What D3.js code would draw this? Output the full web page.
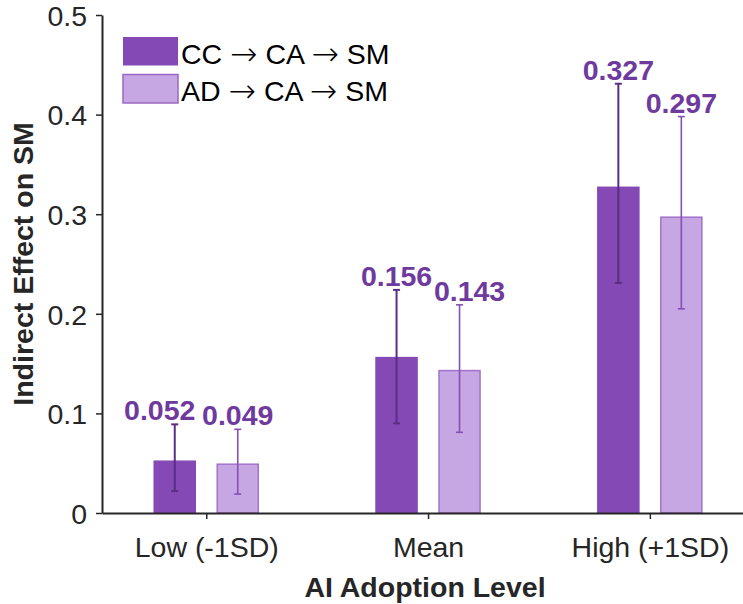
<!DOCTYPE html>
<html>
<head>
<meta charset="utf-8">
<script src="https://cdn.jsdelivr.net/npm/d3@7"></script>
<style>
  body { margin: 0; background: #fff; }
  text { font-family: "Liberation Sans", Arial, sans-serif; }
</style>
</head>
<body>
<div id="chart"></div>
<script>
// categories and series
const levels = ["Low (-1SD)", "Mean", "High (+1SD)"];
const seriesNames = [["CC", "CA", "SM"], ["AD", "CA", "SM"]];
const ccValues = [0.052, 0.156, 0.327];
const adValues = [0.049, 0.143, 0.297];
// confidence intervals (lower / upper)
const ccLower = [0.022, 0.090, 0.231];
const ccUpper = [0.089, 0.224, 0.431];
const adLower = [0.019, 0.081, 0.205];
const adUpper = [0.084, 0.209, 0.398];
const yTicks = [0, 0.1, 0.2, 0.3, 0.4, 0.5];

const width = 743, height = 604;
const fill = ["#8549b5", "#c6a7e3"];
const edge = ["#8549b5", "#a272cc"];
const errColor = ["#5b2d85", "#8350b3"];
const labelColor = "#6f3a9e";
const fs = 28.5;
// small sideways nudges so neighbouring labels don't collide
const labelNudge = [[-15, 0], [0, 10], [0, 0]];

const svg = d3.select("#chart").append("svg")
    .attr("width", width)
    .attr("height", height);

const x = d3.scaleLinear().domain([0.53, 3.42]).range([102, 743]);
const y = d3.scaleLinear().domain([0, 0.5]).range([513, 15]);

const barOffset = 0.142; // in category units
const barW = x(0.185) - x(0);

const series = [
  { vals: ccValues, lo: ccLower, hi: ccUpper, off: -barOffset },
  { vals: adValues, lo: adLower, hi: adUpper, off: barOffset }
];

// bars
series.forEach((s, si) => {
  svg.append("g").selectAll("rect")
    .data(s.vals)
    .join("rect")
    .attr("x", (d, i) => x(i + 1 + s.off) - barW / 2)
    .attr("y", d => y(d))
    .attr("width", barW)
    .attr("height", d => y(0) - y(d))
    .attr("fill", fill[si])
    .attr("stroke", edge[si])
    .attr("stroke-width", 1.5);
});

// error bars
series.forEach((s, si) => {
  const g = svg.append("g")
      .attr("stroke", errColor[si])
      .attr("stroke-width", si === 0 ? 2 : 1.6);
  s.vals.forEach((d, i) => {
    const cx = x(i + 1 + s.off);
    g.append("line").attr("x1", cx).attr("x2", cx).attr("y1", y(s.lo[i])).attr("y2", y(s.hi[i]));
    g.append("line").attr("x1", cx - 3.5).attr("x2", cx + 3.5).attr("y1", y(s.lo[i])).attr("y2", y(s.lo[i]));
    g.append("line").attr("x1", cx - 3.5).attr("x2", cx + 3.5).attr("y1", y(s.hi[i])).attr("y2", y(s.hi[i]));
  });
});

// value labels
series.forEach((s, si) => {
  svg.append("g").selectAll("text")
    .data(s.vals)
    .join("text")
    .attr("x", (d, i) => x(i + 1 + s.off) + labelNudge[i][si])
    .attr("y", (d, i) => y(s.hi[i]) - 4)
    .attr("text-anchor", "middle")
    .attr("font-size", fs)
    .attr("font-weight", "bold")
    .attr("fill", labelColor)
    .text(d => d.toFixed(3));
});

// axes
const xAxis = svg.append("g")
    .attr("transform", `translate(0,${y(0)})`)
    .call(d3.axisBottom(x).tickValues([1, 2, 3]).tickSize(6).tickSizeOuter(0)
      .tickFormat((d, i) => levels[i]));
xAxis.select(".domain").attr("stroke", "#262626").attr("stroke-width", 2);
xAxis.selectAll(".tick line").attr("stroke", "#262626").attr("stroke-width", 1.5);
xAxis.selectAll(".tick text")
    .attr("y", 44).attr("dy", 0)
    .attr("font-size", fs)
    .attr("fill", "#262626")
    .attr("font-family", "Liberation Sans, Arial, sans-serif");

const yAxis = svg.append("g")
    .attr("transform", `translate(${x.range()[0]},0)`)
    .call(d3.axisLeft(y).tickValues(yTicks).tickSize(6).tickSizeOuter(0)
      .tickFormat(d => d === 0 ? "0" : d3.format(".1f")(d)));
yAxis.select(".domain").attr("stroke", "#262626").attr("stroke-width", 2);
yAxis.selectAll(".tick line").attr("stroke", "#262626").attr("stroke-width", 1.5);
yAxis.selectAll(".tick text")
    .attr("x", -15).attr("dy", "0.36em")
    .attr("font-size", fs)
    .attr("fill", "#262626")
    .attr("font-family", "Liberation Sans, Arial, sans-serif");

// axis titles
svg.append("text")
    .attr("x", 425).attr("y", 597)
    .attr("text-anchor", "middle")
    .attr("font-size", fs).attr("font-weight", "bold")
    .attr("fill", "#262626")
    .text("AI Adoption Level");

svg.append("text")
    .attr("transform", `translate(33,${(y(0) + y(0.5)) / 2}) rotate(-90)`)
    .attr("text-anchor", "middle")
    .attr("font-size", fs).attr("font-weight", "bold")
    .attr("fill", "#262626")
    .text("Indirect Effect on SM");

// legend
const legend = svg.append("g").attr("transform", "translate(123,37)");
seriesNames.forEach((parts, i) => {
  const row = legend.append("g").attr("transform", `translate(0,${i * 37.5})`);
  row.append("rect")
    .attr("width", 55).attr("height", 28.5)
    .attr("fill", fill[i])
    .attr("stroke", i === 0 ? fill[i] : "#9a68c4")
    .attr("stroke-width", i === 0 ? 0 : 1.5);
  const t = row.append("text")
    .attr("x", 58).attr("y", 26.5)
    .attr("font-size", fs)
    .attr("fill", "#000");
  parts.forEach((p, k) => {
    if (k > 0) {
      t.append("tspan").text(" ");
      t.append("tspan")
        .attr("font-family", "DejaVu Sans")
        .attr("font-weight", 200)
        .attr("font-size", fs * 1.15)
        .attr("dy", 1)
        .text("\u2192");
      t.append("tspan").attr("dy", -1).text(" ");
    }
    t.append("tspan").text(p);
  });
});
</script>
</body>
</html>
